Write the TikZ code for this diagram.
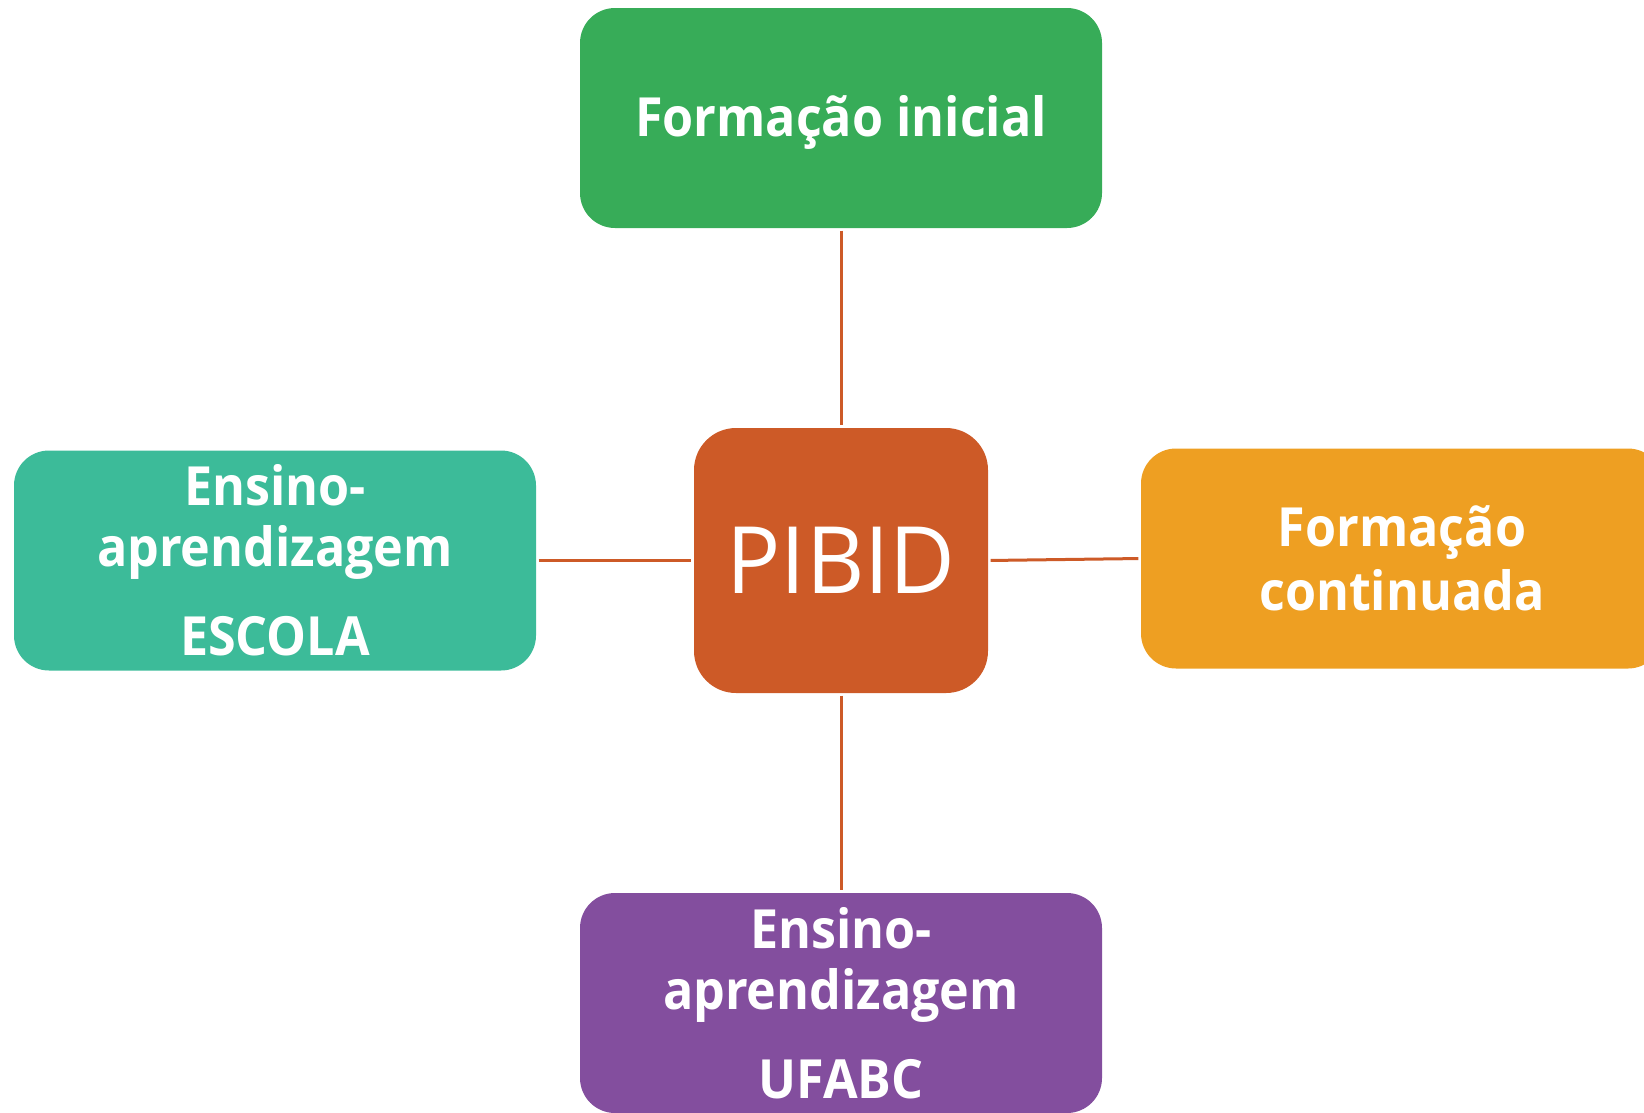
\documentclass[tikz,border=0pt]{standalone}
\usepackage{fontspec}
\setmainfont{Open Sans}[FakeStretch=0.93]
\newfontfamily\pibfont{Open Sans}[FakeStretch=0.97]
\definecolor{cgreen}{HTML}{37AC58}
\definecolor{cteal}{HTML}{3CBB99}
\definecolor{corange}{HTML}{EE9F22}
\definecolor{cpurple}{HTML}{834E9E}
\definecolor{cpib}{HTML}{CD5A27}
\tikzset{
  box/.style={rectangle, rounded corners=35pt, minimum width=522pt, minimum height=220pt,
    inner sep=0pt, align=center, text=white,
    font=\fontsize{54}{61}\selectfont\bfseries},
  pibbox/.style={rectangle, rounded corners=42pt, minimum width=294pt, minimum height=265pt,
    inner sep=0pt, fill=cpib, text=white, font=\pibfont\fontsize{93}{100}\selectfont},
  conn/.style={draw=cpib, line width=3pt, shorten >=2.5pt, shorten <=2.5pt}
}
\begin{document}
\begin{tikzpicture}[x=1pt,y=-1pt]
\useasboundingbox (0,0) rectangle (1644,1112);
\node[box, fill=cgreen, text height=40pt, text depth=4pt] (top) at (841,118) {Formação inicial};
\node[pibbox] (pib) at (841,560.5) {PIBID};
\node[box, fill=cteal] (left) at (275,560.5) {Ensino-\\aprendizagem\\[28pt]ESCOLA};
\node[box, fill=corange] (right) at (1402,558.5) {Formação\\[3pt]continuada};
\node[box, fill=cpurple] (bot) at (841,1003) {Ensino-\\aprendizagem\\[28pt]UFABC};
\draw[conn] (top.south) -- (pib.north);
\draw[conn] (pib.south) -- (bot.north);
\draw[conn] (left.east) -- (pib.west);
\draw[conn] (pib.east) -- (right.west);
\end{tikzpicture}
\end{document}
